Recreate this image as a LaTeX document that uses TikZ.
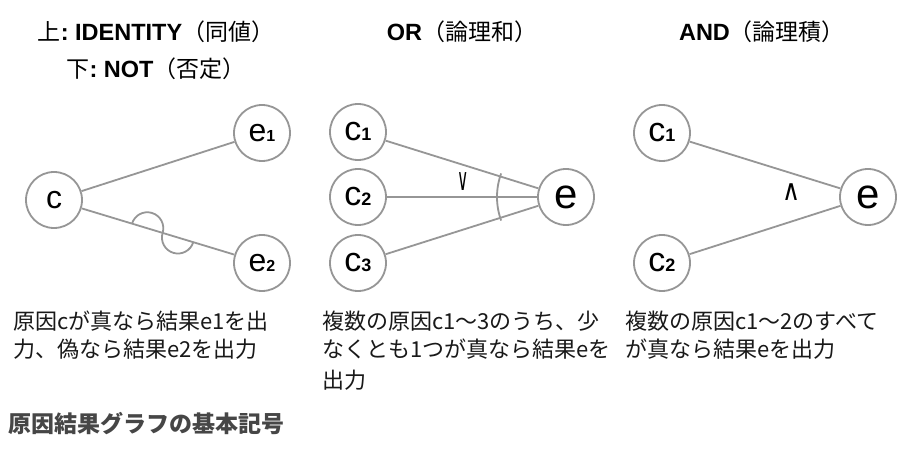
\documentclass[tikz,border=0pt]{standalone}
\usepackage{fontspec}
\setmainfont{Noto Sans CJK JP}
\newfontfamily\lsans{Liberation Sans}
\newfontfamily\symfont{DejaVu Sans}
\usetikzlibrary{calc}
\definecolor{lg}{RGB}{150,150,150}
\definecolor{txt}{RGB}{25,25,25}
\definecolor{ftr}{RGB}{70,70,70}
\newcommand\subdig[1]{{\fontsize{16}{16}\selectfont\bfseries #1}}
\newcommand\subdigb[1]{{\fontsize{18}{18}\selectfont\bfseries #1}}
\begin{document}
\begin{tikzpicture}[x=1pt,y=1pt,
  circ/.style={circle,draw=lg,line width=1.8pt,minimum size=56pt,inner sep=0pt,
    font=\lsans\fontsize{32}{32}\selectfont,text=black},
  circc/.style={circ,font=\lsans\fontsize{34}{34}\selectfont},
  circe/.style={circ,font=\lsans\fontsize{42}{42}\selectfont},
  conn/.style={draw=lg,line width=1.8pt},
  ttl/.style={anchor=base,inner sep=0pt,text=black,font=\fontsize{23}{26}\selectfont},
  body/.style={anchor=base west,inner sep=0pt,text=txt,font=\fontsize{22}{28}\selectfont},
  opsym/.style={inner sep=0pt,text=black}
]
\useasboundingbox (0,0) rectangle (922,450);
\fill[white] (0,0) rectangle (922,450);

% titles
\node[ttl] (t1) at (156,409) {上{\lsans\bfseries\fontsize{23.5}{26}\selectfont :\ IDENTITY}（同値）};
\node[ttl] (t2) at (156,372) {下{\lsans\bfseries\fontsize{23.5}{26}\selectfont :\ NOT}（否定）};
\node[ttl] (t3) at (462,409) {{\lsans\bfseries\fontsize{23.5}{26}\selectfont OR}（論理和）};
\node[ttl] (t4) at (762,409) {{\lsans\bfseries\fontsize{23.5}{26}\selectfont AND}（論理積）};

% panel 1: IDENTITY / NOT
\node[circ] (c) at (54,250) {c};
\node[circ] (e1) at (262,317) {e\subdig{1}};
\node[circ] (e2) at (262,187) {e\subdig{2}};
\draw[conn] (c) -- (e1);
\draw[conn] (c) -- (e2);
\coordinate (nA) at ($(c.center)!0.375!(e2.center)$);
\draw[conn] (nA) arc[start angle=163.15, end angle=-16.85, radius=16pt]
                 arc[start angle=163.15, end angle=343.15, radius=16pt];

% panel 2: OR
\node[circc] (o1) at (358,318) {c\subdigb{1}};
\node[circc] (o2) at (358,253) {c\subdigb{2}};
\node[circc] (o3) at (358,187) {c\subdigb{3}};
\node[circe] (oe) at (566,253) {e};
\draw[conn] (o1) -- (oe);
\draw[conn] (o2) -- (oe);
\draw[conn] (o3) -- (oe);
\draw[conn] ([shift={(160:69pt)}]oe.center) arc[start angle=160, end angle=200, radius=69pt];
\node[opsym] (orv) at (463,268) {\symfont\fontsize{31}{31}\selectfont\scalebox{0.5}[1]{∨}};

% panel 3: AND
\node[opsym] (andv) at (792,258) {\symfont\fontsize{29}{29}\selectfont\scalebox{0.85}[1]{∧}};
\node[circc] (a1) at (662,317) {c\subdigb{1}};
\node[circc] (a2) at (662,187) {c\subdigb{2}};
\node[circe] (ae) at (868,253) {e};
\draw[conn] (a1) -- (ae);
\draw[conn] (a2) -- (ae);

% descriptions
\node[body] (d1a) at (13,120) {原因cが真なら結果e1を出};
\node[body] (d1b) at (13,92) {力、偽なら結果e2を出力};
\node[body] (d2a) at (322,120) {複数の原因c1～3のうち、少};
\node[body] (d2b) at (322,92) {なくとも1つが真なら結果eを};
\node[body] (d2c) at (322,61) {出力};
\node[body] (d3a) at (625,120) {複数の原因c1～2のすべて};
\node[body] (d3b) at (625,92) {が真なら結果eを出力};

% footer
\node[anchor=base west,inner sep=0pt,text=ftr,font=\fontsize{23}{23}\selectfont\bfseries] (ft) at (8,17) {原因結果グラフの基本記号};
\end{tikzpicture}
\end{document}
